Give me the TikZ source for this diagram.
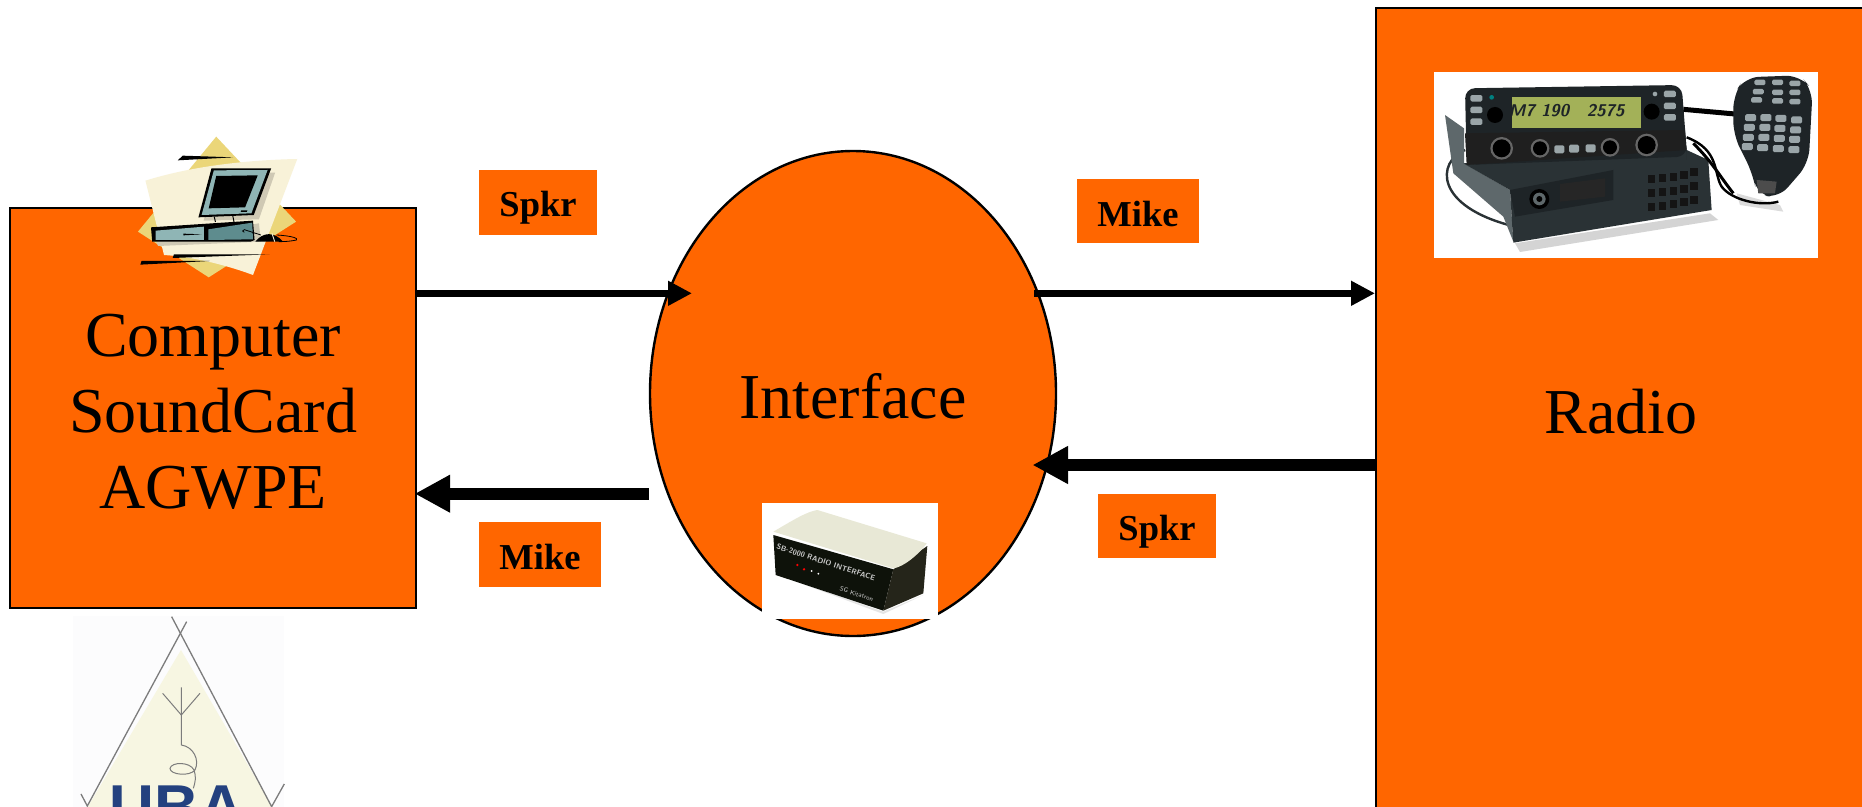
\documentclass[tikz,border=0pt]{standalone}
\usepackage{fontspec}
\setmainfont{Liberation Serif}
\newfontfamily\logosans{Liberation Sans}
\usetikzlibrary{arrows.meta,shapes.geometric}
\definecolor{orangefill}{HTML}{FF6600}
\definecolor{tealA}{HTML}{8FB5B5}
\definecolor{tealB}{HTML}{5E8C8E}
\definecolor{diamondY}{HTML}{EBD679}
\definecolor{sheetC}{HTML}{F8F2D8}
\definecolor{shadowG}{HTML}{CFC9B4}
\definecolor{rdark}{HTML}{1E2427}
\definecolor{rmid}{HTML}{2A3235}
\definecolor{rplate}{HTML}{5E686B}
\definecolor{rkey}{HTML}{9AA5A8}
\definecolor{lcd}{HTML}{A3B158}
\definecolor{navyU}{HTML}{24417F}
\definecolor{logoG}{HTML}{7C7C7C}
\definecolor{logoBg}{HTML}{FCFCFD}
\definecolor{logoCream}{HTML}{F7F6E2}
\definecolor{ifTop}{HTML}{E8E8D6}
\definecolor{ifFront}{HTML}{0E120A}
\definecolor{ifSide}{HTML}{25251A}
\newcommand\lowertext[2]{\raisebox{-#1}[\height][\depth]{#2}}
\tikzset{
  x=1pt,y=-1pt,
  boxshape/.style={draw=black,line width=2.4pt,fill=orangefill,inner sep=0pt,align=center,font=\fontsize{64}{76}\selectfont},
  taglabel/.style={fill=orangefill,inner sep=0pt,font=\fontsize{36.5}{40}\selectfont\bfseries},
  thinarrow/.style={line width=7.5pt,-{Triangle[length=24pt,width=23.5pt]}},
  heavyarrow/.style={line width=12pt,shorten >=-2.5pt,-{Triangle[length=35.5pt,width=35.5pt]}},
  rkeyb/.style={fill=rkey,rounded corners=1.5pt,minimum width=12pt,minimum height=6.5pt,inner sep=0pt},
}
\begin{document}
\begin{tikzpicture}
\useasboundingbox (0,0) rectangle (1862,806);
\clip (0,0) rectangle (1862,806);
\fill[white] (0,0) rectangle (1862,806);

% main shapes
\node[boxshape,minimum width=406pt,minimum height=400pt] (comp) at (213,408) {\lowertext{4pt}{Computer}\\\lowertext{4pt}{SoundCard}\\\lowertext{4pt}{AGWPE}};
\node[boxshape,ellipse,minimum width=406pt,minimum height=485pt] (iface) at (853,393.5) {\lowertext{2.5pt}{Interface}};
\node[boxshape,anchor=north west,minimum width=540pt,minimum height=840pt] (radio) at (1375,7) {};
\node[font=\fontsize{64}{76}\selectfont,inner sep=0pt] (radiotext) at (1621,412) {Radio};

% tags
\node[taglabel,minimum width=118pt,minimum height=65pt] (tagA) at (538,202.5) {\lowertext{5pt}{Spkr}};
\node[taglabel,minimum width=122pt,minimum height=64pt] (tagB) at (1138,211) {\lowertext{3pt}{Mike}};
\node[taglabel,minimum width=122pt,minimum height=65pt] (tagC) at (540,554.5) {\lowertext{2pt}{Mike}};
\node[taglabel,minimum width=118pt,minimum height=64pt] (tagD) at (1157,526) {\lowertext{6pt}{Spkr}};

% computer clip art (coordinates read from a crop)
\begin{scope}[shift={(0,100)},x=0.3953pt,y=-0.3333pt]
  \fill[diamondY] (547,110) -- (749,365) -- (528,532) -- (349,395) -- cycle;
  \fill[sheetC] (368,242) .. controls (480,200) and (620,180) .. (752,177) -- (640,525) .. controls (560,490) and (480,470) .. (415,465) -- cycle;
  % shadow
  \fill[shadowG] (550,220) -- (696,218) -- (655,358) -- (515,362) -- cycle;
  \fill[shadowG] (395,425) -- (655,370) -- (660,425) -- (400,438) -- cycle;
  % monitor
  \fill[black] (535,205) -- (686,205) -- (642,345) -- (502,352) -- cycle;
  \fill[tealA] (541,211) -- (677,210) -- (636,340) -- (510,345) -- cycle;
  \fill[black] (547,228) -- (652,226) -- (620,322) -- (528,325) -- cycle;
  \fill[black] (610,331) -- (626,331) -- (624,336) -- (609,336) -- cycle;
  \draw[black,line width=1pt] (542,350) -- (545,366) (589,348) -- (592,366);
  % base
  \fill[black] (382,382) -- (640,362) -- (644,420) -- (634,425) -- (385,425) -- cycle;
  \fill[tealA] (394,392) -- (516,380) -- (516,420) -- (394,420) -- cycle;
  \fill[tealB] (527,388) -- (638,368) -- (640,418) -- (527,420) -- cycle;
  \fill[black] (464,401) -- (510,403) -- (464,406) -- cycle;
  \draw[black,line width=0.8pt] (618,397) arc (90:270:4) -- (660,405);
  % mouse
  \fill[black] (646,425) .. controls (665,395) and (695,395) .. (716,425) -- cycle;
  \draw[black,line width=0.8pt] (700,405) .. controls (740,408) and (755,415) .. (750,420) .. controls (735,424) and (720,425) .. (705,425);
  \draw[sheetC,line width=0.9pt] (688,400) -- (695,425);
  % speed lines
  \fill[black] (462,167) -- (590,172) -- (450,181) -- cycle;
  \fill[black] (440,463) -- (682,463) -- (437,474) -- cycle;
  \fill[black] (358,483) -- (530,483) -- (355,494) -- cycle;
\end{scope}

% logo
\begin{scope}[shift={(0,590)},x=0.3333pt,y=-0.3333pt]
  \fill[logoBg] (220,78) rectangle (853,660);
  \fill[logoCream] (543,180) -- (840,690) -- (240,690) -- cycle;
  \draw[logoG,line width=1.3pt] (515,80) -- (815,650) -- (853,582);
  \draw[logoG,line width=1.3pt] (560,95) -- (262,648) -- (243,612);
  \draw[logoG,line width=1pt] (544,292) -- (544,465) .. controls (580,470) and (600,510) .. (585,540) .. controls (570,560) and (510,555) .. (510,535) .. controls (515,515) and (570,515) .. (582,540) .. controls (590,560) and (585,580) .. (580,595);
  \draw[logoG,line width=1pt] (488,310) -- (544,375) -- (600,310);
  \node[anchor=base,inner sep=0pt,text=navyU,font=\logosans\fontsize{62}{62}\selectfont\bfseries] (uba) at (530,717) {UBA};
\end{scope}

% radio photo
\begin{scope}[shift={(1400,50)},x=0.3333pt,y=-0.3333pt]
  \fill[white] (102,66) rectangle (1254,624);
  \fill[black!17] (345,580) -- (930,490) -- (955,510) -- (360,606) -- cycle;
  \fill[black!14] (1010,430) -- (1140,465) -- (1150,485) -- (1020,465) -- cycle;
  \draw[rmid,line width=2.4pt] (195,300) .. controls (110,335) and (100,470) .. (345,530);
  \fill[rplate] (135,195) -- (192,235) -- (192,340) -- (330,420) -- (340,575) -- (310,500) -- (160,370) -- cycle;
  \fill[rmid] (190,340) -- (860,300) -- (925,330) -- (935,480) -- (340,578) -- (330,420) -- cycle;
  \fill[rdark] (330,420) -- (640,360) -- (640,450) -- (345,500) -- cycle;
  \fill[black!85] (480,402) -- (615,385) -- (615,440) -- (480,455) -- cycle;
  \fill[black] (418,447) circle (30);
  \fill[rplate] (418,447) circle (19);
  \fill[black] (418,447) circle (9);
  \foreach \cx/\cy in {755/388,788/384,820/380,852/374,882/366,755/430,788/426,820/422,852/416,882/408,755/472,788/468,820/462,852/456,882/450}
    \fill[black!92] (\cx-11,\cy-12) rectangle (\cx+11,\cy+12);
  % mike cables
  \draw[black,line width=5pt] (850,178) -- (1005,192);
  \draw[black,line width=2.4pt] (860,262) .. controls (960,300) and (940,370) .. (965,410) .. controls (995,450) and (1080,470) .. (1135,455);
  \draw[black,line width=3pt] (880,280) .. controls (940,340) and (960,380) .. (1000,430);
  % front panel
  \fill[rdark,rounded corners=10pt] (195,115) -- (845,105) -- (860,300) -- (860,320) -- (200,345) -- cycle;
  \fill[black!88] (195,250) -- (855,240) -- (860,300) -- (200,345) -- cycle;
  \fill[lcd] (335,140) -- (722,140) -- (722,235) -- (335,235) -- cycle;
  \node[inner sep=0pt,text=rdark,font=\sffamily\bfseries\itshape\fontsize{17}{17}\selectfont] (lcdA) at (417,182) {M7 190};
  \node[inner sep=0pt,text=rdark,font=\sffamily\bfseries\itshape\fontsize{17}{17}\selectfont] (lcdB) at (617,182) {2575};
  \foreach \cx/\cy in {229/145,229/180,229/215,810/132,810/168,810/202}
    \node[rkeyb] at (\cx,\cy) {};
  \fill[black] (285,195) circle (24);
  \fill[black] (755,185) circle (24);
  \fill[teal] (275,142) circle (7);
  \fill[rkey] (765,132) circle (7);
  \foreach \cx/\cy/\rr in {305/295/34,420/295/28,630/292/28,740/285/34}{
    \fill[black!60] (\cx,\cy) circle (\rr);
    \fill[black] (\cx,\cy) circle (\rr-7);
  }
  \foreach \cx/\cy in {478/298,522/296,572/295}
    \node[rkeyb,minimum width=10pt,minimum height=8pt] at (\cx,\cy) {};
  % mike
  \fill[rdark,rounded corners=14pt] (1035,82) -- (1200,76) -- (1238,120) -- (1226,340) -- (1135,445) -- (1070,432) -- (1058,370) -- (1000,255) -- (1000,135) -- cycle;
  \fill[black!70] (1070,390) -- (1130,395) -- (1125,430) -- (1075,430) -- cycle;
  \foreach \cx/\cy in {1080/97,1133/97,1185/100,1075/125,1133/127,1185/127,1070/150,1133/153,1185/155}
    \node[rkeyb,minimum width=11pt,minimum height=5.5pt] at (\cx,\cy) {};
  \foreach \cx/\cy in {1052/203,1098/203,1143/205,1190/210,1048/232,1095/232,1140/235,1187/240,1045/262,1092/262,1138/265,1184/268,1042/290,1088/293,1135/296,1182/299}
    \node[rkeyb,minimum width=11pt,minimum height=7pt] at (\cx,\cy) {};
\end{scope}

% interface photo
\begin{scope}[shift={(720,480)},x=0.3333pt,y=-0.3333pt]
  \fill[white] (126,69) rectangle (654,417);
  \fill[black!10] (175,285) -- (490,395) -- (610,345) -- (490,402) -- cycle;
  \fill[ifFront] (160,165) -- (520,268) -- (490,392) -- (167,285) -- cycle;
  \fill[ifSide] (520,268) -- (622,198) -- (610,340) -- (490,392) -- cycle;
  \fill[ifTop] (160,155) .. controls (220,120) and (260,95) .. (292,90) -- (620,190) .. controls (600,220) and (550,262) .. (520,265) -- cycle;
  \node[inner sep=0pt,text=white!80!black,rotate=-18,font=\sffamily\fontsize{7.5}{8}\selectfont\bfseries] (sbtext) at (318,247) {SB-2000 RADIO INTERFACE};
  \node[inner sep=0pt,text=white!80!black,rotate=-18,font=\sffamily\fontsize{6.5}{7}\selectfont] (sgtext) at (410,342) {SG Kitatron};
  \fill[red] (232,255) circle (4) (252,268) circle (4);
  \fill[white] (275,273) circle (3) (295,281) circle (3);
\end{scope}

% connectors
\coordinate (a1s) at (comp.east |- 0,293.3);
\coordinate (a1e) at (692,293.3);
\coordinate (a2s) at (1034,293.3);
\coordinate (a2e) at (radio.west |- 0,293.3);
\coordinate (a3s) at (radio.west |- 0,465);
\coordinate (a3e) at (1035,465);
\coordinate (a4s) at (iface.west |- 0,493.7);
\coordinate (a4e) at (comp.east |- 0,493.7);
\draw[thinarrow] (a1s) -- (a1e);
\draw[thinarrow] (a2s) -- (a2e);
\draw[heavyarrow] (a3s) -- (a3e);
\draw[heavyarrow] (a4s) -- (a4e);
\end{tikzpicture}
\end{document}
